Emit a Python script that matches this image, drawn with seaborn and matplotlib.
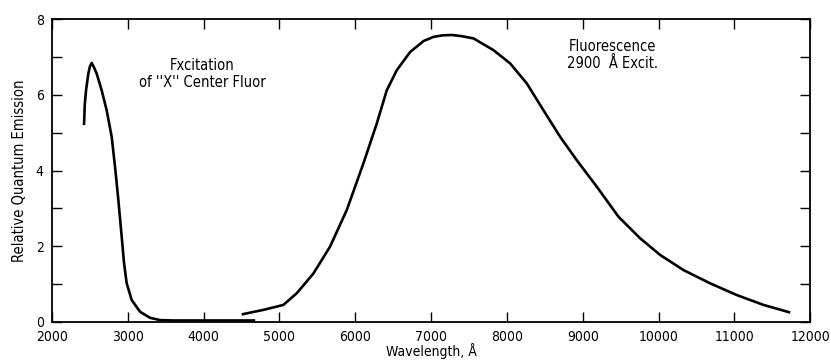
import numpy as np
import pandas as pd
import matplotlib
matplotlib.use("Agg")
import matplotlib.pyplot as plt
from matplotlib.ticker import MultipleLocator
import seaborn as sns

# Excitation curve of "X" center fluor
exc_wl = [2422, 2432, 2449, 2479, 2500, 2523, 2550, 2589, 2655, 2721, 2787, 2831, 2875, 2919, 2950,
          2985, 3051, 3161, 3293, 3425, 3600, 4000, 4400, 4680]
exc_val = [5.20, 5.75, 6.12, 6.56, 6.75, 6.84, 6.74, 6.56, 6.12, 5.59, 4.89, 4.10, 3.22, 2.25, 1.55,
           1.02, 0.58, 0.27, 0.11, 0.05, 0.04, 0.04, 0.04, 0.04]

# Fluorescence, 2900 A excitation
flu_wl = [4502, 4787, 5051, 5228, 5447, 5667, 5888, 6107, 6283, 6415, 6547, 6723,
          6900, 7031, 7150, 7273, 7400, 7558, 7822, 8042, 8262, 8482, 8702, 8922, 9186, 9471,
          9757, 10021, 10329, 10681, 11033, 11385, 11736]
flu_val = [0.20, 0.32, 0.45, 0.76, 1.28, 1.99, 2.96, 4.19, 5.24, 6.12, 6.65, 7.13,
           7.42, 7.53, 7.57, 7.58, 7.55, 7.49, 7.18, 6.83, 6.30, 5.59, 4.89, 4.27, 3.57, 2.78,
           2.21, 1.77, 1.37, 1.02, 0.71, 0.45, 0.25]

x_ticks = [2000, 3000, 4000, 5000, 6000, 7000, 8000, 9000, 10000, 11000, 12000]
y_ticks = [0, 2, 4, 6, 8]

sns.set_style("ticks")
plt.rcParams['font.family'] = ['DejaVu Sans']
plt.rcParams['font.stretch'] = 'condensed'
plt.rcParams['text.color'] = 'black'
plt.rcParams['axes.labelcolor'] = 'black'

fig = plt.figure(figsize=(8.31, 3.6), dpi=100)
ax = fig.add_axes([0.0626, 0.1056, 0.9124, 0.8414])

exc = pd.DataFrame({"wl": exc_wl, "val": exc_val})
flu = pd.DataFrame({"wl": flu_wl, "val": flu_val})
sns.lineplot(data=exc, x="wl", y="val", sort=False, color="black", linewidth=1.9, ax=ax)
sns.lineplot(data=flu, x="wl", y="val", sort=False, color="black", linewidth=1.9, ax=ax)
for ln in ax.lines:
    ln.set_solid_joinstyle("round")
    ln.set_solid_capstyle("butt")

ax.set_xlim(2000, 12000)
ax.set_ylim(0, 8)
ax.set_xticks(x_ticks)
ax.set_xticklabels([str(t) for t in x_ticks])
ax.set_yticks(y_ticks)
ax.set_yticklabels([str(t) for t in y_ticks])
ax.yaxis.set_minor_locator(MultipleLocator(1))
ax.tick_params(axis="both", which="both", direction="in", top=True, right=True,
               labelsize=10, colors="black", width=1.0)
ax.tick_params(axis="both", which="major", length=7)
ax.tick_params(axis="both", which="minor", length=7)
ax.tick_params(axis="x", pad=6)
ax.tick_params(axis="y", pad=6)
for s in ax.spines.values():
    s.set_linewidth(1.3)
    s.set_color("black")

ax.set_xlabel("Wavelength, Å", fontsize=10, labelpad=-1)
ax.set_ylabel("Relative Quantum Emission", fontsize=10.5, labelpad=6)

ax.text(3979, 6.55, "Fxcitation\nof ''X'' Center Fluor", ha="center", va="center",
        fontsize=10.5, linespacing=1.1)
ax.text(9389, 7.05, "Fluorescence\n2900  Å Excit.", ha="center", va="center",
        fontsize=10.5, linespacing=1.1)

fig.savefig("out.png", dpi=100)
